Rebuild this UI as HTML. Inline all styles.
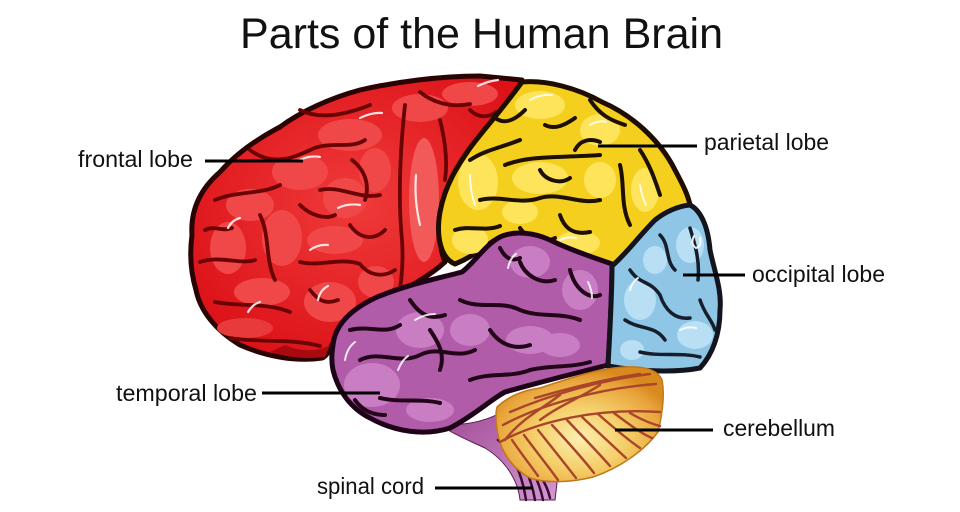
<!DOCTYPE html>
<html>
<head>
<meta charset="utf-8">
<style>
html,body{margin:0;padding:0;background:#fff;}
body{width:960px;height:512px;overflow:hidden;}
svg{display:block;}
text{font-family:"Liberation Sans",Arial,sans-serif;fill:#111;}
</style>
</head>
<body>
<svg width="960" height="512" viewBox="0 0 960 512" xmlns="http://www.w3.org/2000/svg">
<defs>
  <radialGradient id="cb" cx="0.5" cy="0.62" r="0.6">
    <stop offset="0" stop-color="#fcefb0"/>
    <stop offset="0.45" stop-color="#f5cf6a"/>
    <stop offset="0.85" stop-color="#e8a33a"/>
    <stop offset="1" stop-color="#d98a1e"/>
  </radialGradient>
  <linearGradient id="st" x1="0" y1="0" x2="1" y2="1">
    <stop offset="0" stop-color="#a04a96"/>
    <stop offset="1" stop-color="#d49ad0"/>
  </linearGradient>
  <radialGradient id="rd" cx="0.5" cy="0.45" r="0.6">
    <stop offset="0" stop-color="#f03a3a"/>
    <stop offset="1" stop-color="#dc1218"/>
  </radialGradient>
</defs>

<!-- Title -->
<text x="240" y="48" font-size="43" textLength="483" lengthAdjust="spacingAndGlyphs">Parts of the Human Brain</text>

<!-- Brain stem -->
<path d="M445,425 C470,425 490,420 505,410 L562,440 L555,500 L520,500 C518,480 505,460 485,448 C468,440 455,435 445,428 Z" fill="url(#st)" stroke="#5a1a50" stroke-width="1"/>
<g fill="none" stroke="#3a0a32" stroke-width="2.5" stroke-linecap="round">
  <path d="M498,440 Q520,460 526,500"/>
  <path d="M507,442 Q529,465 535,500"/>
  <path d="M516,450 Q537,470 543,500"/>
  <path d="M525,460 Q545,476 550,498"/>
</g>

<!-- Frontal lobe (red) -->
<path d="M192,235 C190,205 205,185 220,172 C235,155 255,140 280,127 C300,112 330,98 360,90 C395,82 440,76 480,76 L522,80 C512,100 505,115 497,125 C480,145 465,165 452,190 C440,215 436,240 445,262 C420,285 380,300 345,322 C332,340 330,355 322,358 C295,362 265,356 240,345 C215,330 200,310 196,290 C190,270 190,250 192,235 Z" fill="url(#rd)" stroke="#2a0303" stroke-width="5" stroke-linejoin="round"/>
<g fill="#f04848">
  <ellipse cx="250" cy="205" rx="24" ry="16"/>
  <ellipse cx="228" cy="248" rx="18" ry="26"/>
  <ellipse cx="282" cy="238" rx="20" ry="28"/>
  <ellipse cx="330" cy="302" rx="26" ry="20"/>
  <ellipse cx="376" cy="282" rx="18" ry="16"/>
  <ellipse cx="335" cy="240" rx="28" ry="14"/>
  <ellipse cx="262" cy="292" rx="28" ry="14"/>
  <ellipse cx="245" cy="328" rx="28" ry="10" fill="#e83a3a"/>
  <ellipse cx="300" cy="172" rx="28" ry="18"/>
  <ellipse cx="350" cy="135" rx="32" ry="16"/>
  <ellipse cx="420" cy="108" rx="28" ry="14"/>
  <ellipse cx="470" cy="94" rx="28" ry="12"/>
  <ellipse cx="345" cy="198" rx="22" ry="20"/>
  <ellipse cx="375" cy="170" rx="16" ry="22"/>
  <ellipse cx="424" cy="200" rx="15" ry="62" fill="#f25a5a"/>
</g>
<path d="M285,345 C300,352 318,352 330,345 L325,357 C300,360 285,356 270,352 Z" fill="#a80a10"/>
<g fill="none" stroke="#6a0404" stroke-width="3.8" stroke-linecap="round">
  <path d="M405,105 C400,150 398,200 402,240 C404,270 400,295 395,310"/>
  <path d="M215,200 C240,190 260,195 280,185"/>
  <path d="M200,262 C220,255 240,265 255,260"/>
  <path d="M250,150 C270,165 290,160 310,150 C330,140 350,150 365,140"/>
  <path d="M300,110 C320,120 345,115 370,105"/>
  <path d="M320,190 C340,185 360,200 380,195"/>
  <path d="M260,215 C270,235 265,260 275,280"/>
  <path d="M300,262 C320,267 340,257 360,264 C370,277 385,277 395,270"/>
  <path d="M215,302 C240,307 265,302 290,312"/>
  <path d="M230,338 C260,343 290,338 320,346"/>
  <path d="M350,225 C360,240 375,240 385,230"/>
  <path d="M420,92 C432,102 450,108 470,104"/>
  <path d="M352,160 C365,170 370,185 365,200"/>
  <path d="M300,205 C310,215 325,220 335,215"/>
  <path d="M440,120 C445,140 448,160 445,180"/>
  <path d="M205,230 C215,225 222,232 232,228"/>
  <path d="M310,290 C318,300 325,305 338,300"/>
  <path d="M470,110 C478,118 488,118 496,112"/>
</g>
<g fill="none" stroke="#ffffff" stroke-width="2.2" stroke-linecap="round" opacity="0.85">
  <path d="M255,118 q12,-6 24,-6"/>
  <path d="M300,160 q10,-5 20,-3"/>
  <path d="M228,228 q4,-8 12,-10"/>
  <path d="M338,208 q10,-5 22,-3"/>
  <path d="M248,312 q5,-8 12,-10"/>
  <path d="M318,300 q2,-10 10,-14"/>
  <path d="M416,175 q-2,25 4,50"/>
  <path d="M478,86 q10,-5 20,-6"/>
  <path d="M360,118 q12,-6 22,-5"/>
  <path d="M310,250 q8,-6 18,-5"/>
</g>

<!-- Parietal lobe (yellow) -->
<path d="M522,82 C547,80 577,88 602,102 C632,115 660,140 675,170 C683,185 688,195 690,205 C670,210 650,225 640,240 C630,255 620,262 612,267 C590,264 570,255 550,245 C530,236 510,232 495,240 C480,250 470,258 455,264 C440,258 436,235 440,212 C445,185 458,165 470,148 C485,128 500,112 522,82 Z" fill="#f5cf1d" stroke="#1e0d00" stroke-width="5" stroke-linejoin="round"/>
<g fill="#fde45a">
  <ellipse cx="540" cy="105" rx="25" ry="14"/>
  <ellipse cx="600" cy="130" rx="20" ry="16"/>
  <ellipse cx="478" cy="182" rx="20" ry="28"/>
  <ellipse cx="540" cy="178" rx="28" ry="16"/>
  <ellipse cx="600" cy="180" rx="16" ry="18"/>
  <ellipse cx="645" cy="190" rx="14" ry="22"/>
  <ellipse cx="470" cy="240" rx="18" ry="14"/>
  <ellipse cx="578" cy="243" rx="22" ry="12"/>
  <ellipse cx="520" cy="212" rx="18" ry="12"/>
</g>
<g fill="none" stroke="#1e1000" stroke-width="4" stroke-linecap="round">
  <path d="M470,160 C485,150 500,148 520,140"/>
  <path d="M505,165 C530,155 560,158 600,155"/>
  <path d="M480,200 C500,195 520,205 540,198 C560,192 580,205 600,200"/>
  <path d="M620,165 C625,185 620,205 630,225"/>
  <path d="M545,125 C555,130 565,125 575,118"/>
  <path d="M560,215 C565,230 575,235 590,232"/>
  <path d="M455,230 C470,225 485,232 500,226"/>
  <path d="M640,150 C650,165 655,180 660,195"/>
  <path d="M520,228 C530,243 545,243 555,238"/>
  <path d="M590,100 C600,115 610,120 625,125"/>
  <path d="M540,170 C545,180 560,185 570,178"/>
  <path d="M495,118 C505,125 515,120 525,110"/>
  <path d="M575,150 C580,140 590,138 600,142"/>
</g>
<g fill="none" stroke="#ffffff" stroke-width="2" stroke-linecap="round" opacity="0.85">
  <path d="M530,100 q10,-6 22,-5"/>
  <path d="M470,175 q0,15 5,30"/>
  <path d="M590,125 q8,-5 16,-3"/>
  <path d="M640,185 q2,12 6,20"/>
  <path d="M560,240 q8,-4 16,-2"/>
</g>

<!-- Temporal lobe (purple) -->
<path d="M333,345 C335,325 350,310 375,298 C405,285 440,278 462,272 C475,262 485,245 500,237 C515,230 535,233 550,240 C570,250 595,258 612,264 C612,290 610,330 608,365 C580,372 540,382 505,392 C490,400 475,415 450,428 C425,436 395,432 370,418 C350,408 338,390 333,370 C331,360 332,352 333,345 Z" fill="#b15ca9" stroke="#1e0318" stroke-width="5" stroke-linejoin="round"/>
<g fill="#c97ec3">
  <ellipse cx="372" cy="385" rx="28" ry="22"/>
  <ellipse cx="420" cy="330" rx="24" ry="18"/>
  <ellipse cx="530" cy="262" rx="20" ry="16"/>
  <ellipse cx="580" cy="290" rx="18" ry="20"/>
  <ellipse cx="470" cy="330" rx="20" ry="16"/>
  <ellipse cx="530" cy="340" rx="24" ry="14"/>
  <ellipse cx="430" cy="410" rx="24" ry="12"/>
  <ellipse cx="560" cy="345" rx="20" ry="12"/>
</g>
<g fill="none" stroke="#220518" stroke-width="4" stroke-linecap="round">
  <path d="M360,360 C380,350 400,365 420,355 C440,345 455,360 475,350"/>
  <path d="M350,330 C370,325 385,335 400,325"/>
  <path d="M410,300 C420,315 430,320 445,315"/>
  <path d="M460,300 C480,310 500,300 520,310 C540,318 560,312 580,320"/>
  <path d="M520,262 C525,275 540,285 555,280"/>
  <path d="M570,270 C575,290 590,300 600,295"/>
  <path d="M380,398 C400,403 420,398 440,403"/>
  <path d="M470,380 C490,372 510,378 530,370 C550,365 570,368 590,362"/>
  <path d="M490,330 C500,345 515,350 530,345"/>
  <path d="M430,330 C440,345 445,355 440,370"/>
  <path d="M500,248 C505,258 512,262 520,258"/>
  <path d="M355,400 C362,410 372,415 385,415"/>
</g>
<g fill="none" stroke="#ffffff" stroke-width="2" stroke-linecap="round" opacity="0.85">
  <path d="M345,360 q2,-12 10,-18"/>
  <path d="M398,370 q4,-10 10,-14"/>
  <path d="M415,320 q10,-6 20,-6"/>
  <path d="M508,268 q2,-10 8,-14"/>
  <path d="M588,282 q4,8 4,16"/>
</g>

<!-- Occipital lobe (blue) -->
<path d="M690,205 C700,210 708,225 710,250 C714,270 722,290 720,310 C720,335 712,355 700,368 C680,372 650,372 620,368 L608,366 C610,330 612,290 612,266 C625,255 640,235 655,220 C665,212 678,206 690,205 Z" fill="#8fc6e6" stroke="#14141e" stroke-width="5" stroke-linejoin="round"/>
<g fill="#b8dff4">
  <ellipse cx="690" cy="245" rx="14" ry="18"/>
  <ellipse cx="640" cy="300" rx="16" ry="20"/>
  <ellipse cx="695" cy="335" rx="18" ry="14"/>
  <ellipse cx="655" cy="260" rx="12" ry="14"/>
  <ellipse cx="632" cy="350" rx="12" ry="10"/>
</g>
<g fill="none" stroke="#161e2c" stroke-width="3.5" stroke-linecap="round">
  <path d="M630,270 C640,285 650,280 660,295 C665,310 675,320 690,318"/>
  <path d="M660,235 C670,245 665,260 675,270"/>
  <path d="M690,228 C695,245 700,260 698,280"/>
  <path d="M625,320 C640,330 655,325 665,340"/>
  <path d="M640,352 C660,357 680,352 700,357"/>
  <path d="M700,300 C705,315 712,320 715,330"/>
</g>
<g fill="none" stroke="#ffffff" stroke-width="2" stroke-linecap="round" opacity="0.9">
  <path d="M694,236 q-4,8 2,12 q6,-2 4,-10"/>
  <path d="M630,290 q2,-8 8,-12"/>
  <path d="M680,330 q8,-4 16,-2"/>
</g>

<!-- Cerebellum -->
<path d="M497,407 C510,395 525,390 540,388 C570,378 600,368 625,367 C645,366 658,370 662,380 C665,395 662,415 658,432 C645,450 620,468 593,477 C570,483 545,483 530,478 C515,470 502,455 498,435 C496,425 495,415 497,407 Z" fill="url(#cb)" stroke="#c07818" stroke-width="1.5"/>
<g fill="none" stroke="#a8452a" stroke-width="2.4" stroke-linecap="round">
  <path d="M503,425 C540,405 600,388 656,384"/>
  <path d="M510,412 C550,395 600,380 650,374"/>
  <path d="M535,398 C570,388 610,378 640,374"/>
  <path d="M560,395 C540,410 520,420 505,440"/>
  <path d="M600,385 C580,398 560,405 540,420"/>
  <path d="M500,442 C540,420 600,408 660,412"/>
  <path d="M512,440 C520,452 528,462 538,476"/>
  <path d="M524,435 C535,450 545,462 558,480"/>
  <path d="M538,430 C550,445 562,460 576,478"/>
  <path d="M552,425 C566,440 580,455 594,473"/>
  <path d="M567,420 C582,436 596,450 610,466"/>
  <path d="M582,417 C598,432 612,445 626,458"/>
  <path d="M598,414 C614,428 628,440 640,448"/>
  <path d="M614,413 C630,425 642,434 652,438"/>
  <path d="M630,413 C642,420 652,424 660,426"/>
</g>

<!-- Connector lines -->
<g stroke="#000" stroke-width="3" stroke-linecap="butt">
  <line x1="205" y1="161" x2="303" y2="161"/>
  <line x1="598" y1="146" x2="697" y2="146"/>
  <line x1="683" y1="275" x2="745" y2="275"/>
  <line x1="262" y1="393" x2="380" y2="393"/>
  <line x1="435" y1="488" x2="533" y2="488"/>
  <line x1="615" y1="430" x2="713" y2="430"/>
</g>

<!-- Labels -->
<text x="78" y="167" font-size="23" textLength="115" lengthAdjust="spacingAndGlyphs">frontal lobe</text>
<text x="704" y="150" font-size="23" textLength="125" lengthAdjust="spacingAndGlyphs">parietal lobe</text>
<text x="752" y="282" font-size="23" textLength="133" lengthAdjust="spacingAndGlyphs">occipital lobe</text>
<text x="116" y="401" font-size="23" textLength="141" lengthAdjust="spacingAndGlyphs">temporal lobe</text>
<text x="317" y="494" font-size="23" textLength="107" lengthAdjust="spacingAndGlyphs">spinal cord</text>
<text x="723" y="436" font-size="23" textLength="112" lengthAdjust="spacingAndGlyphs">cerebellum</text>
</svg>
</body>
</html>
